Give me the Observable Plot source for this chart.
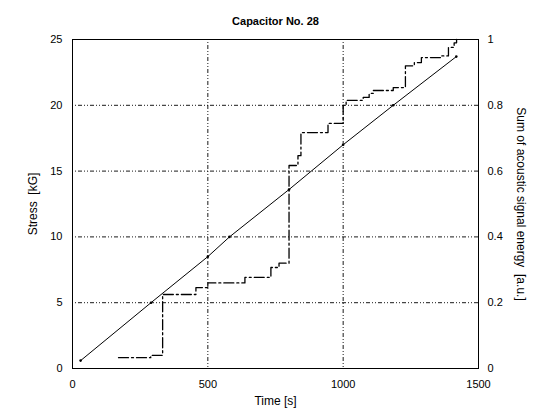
<!DOCTYPE html>
<html>
<head>
<meta charset="utf-8">
<script src="https://cdn.jsdelivr.net/npm/d3@7"></script>
<script src="https://cdn.jsdelivr.net/npm/@observablehq/plot@0.6"></script>
<style>
  body { margin: 0; background: #fff; }
  svg { display: block; }
</style>
</head>
<body>
<div id="chart"></div>
<script>
const title = "Capacitor No. 28";
const xLabel = "Time [s]";
const yLabel = "Stress  [kG]";
const y2Label = "Sum of acoustic signal energy  [a.u.]";

const xTicks = [0, 500, 1000, 1500];
const yTicks = [0, 5, 10, 15, 20, 25];
const y2TickLabels = ["0", "0.2", "0.4", "0.6", "0.8", "1"];

// Stress line (left axis)
const stressTime  = [30, 290, 500, 580, 800, 1000, 1185, 1418];
const stressValue = [0.6, 5.0, 8.5, 10.0, 13.6, 17.0, 20.0, 23.7];

// Cumulative acoustic energy (right axis, 0..1), step-after
const energyTime  = [170, 289, 333, 333, 430, 456, 500, 637, 637, 733, 763, 800, 800, 833, 844, 919, 944, 1000, 1000, 1011, 1067, 1074, 1096, 1111, 1178, 1185, 1230, 1230, 1263, 1289, 1344, 1363, 1389, 1410, 1419];
const energyValue = [0.033, 0.04, 0.055, 0.225, 0.225, 0.246, 0.26, 0.26, 0.277, 0.307, 0.32, 0.32, 0.617, 0.647, 0.717, 0.717, 0.745, 0.75, 0.80, 0.815, 0.815, 0.824, 0.836, 0.845, 0.845, 0.854, 0.854, 0.92, 0.93, 0.945, 0.945, 0.95, 0.976, 0.99, 1.0];

const stress = stressTime.map((t, i) => ({t, v: stressValue[i]}));
const energy = energyTime.map((t, i) => ({t, v: energyValue[i]}));
const Y2MAX = 25; // right axis 1.0 maps to left 25

const font = "Liberation Sans, Arial, sans-serif";
const gridDash = "1,2,1,2,4,2";

const chart = Plot.plot({
  width: 538,
  height: 418,
  marginLeft: 72,
  marginRight: 60,
  marginTop: 39,
  marginBottom: 50,
  style: {fontFamily: font, fontSize: "11px", color: "#000", background: "#fff"},
  x: {domain: [0, 1500]},
  y: {domain: [0, 25]},
  marks: [
    Plot.gridX([500, 1000], {stroke: "#000", strokeOpacity: 0.9, strokeWidth: 1, strokeDasharray: gridDash}),
    Plot.gridY([5, 10, 15, 20], {stroke: "#000", strokeOpacity: 0.9, strokeWidth: 1, strokeDasharray: gridDash}),
    Plot.axisX(xTicks, {tickSize: 0, tickPadding: 12, label: null, fontSize: 11, tickFormat: d => String(d)}),
    Plot.axisY(yTicks, {anchor: "left", tickSize: 0, tickPadding: 10, label: null, fontSize: 11, tickFormat: d => String(d)}),
    Plot.axisY(yTicks, {anchor: "right", tickSize: 0, tickPadding: 9, label: null, fontSize: 11,
      tickFormat: d => y2TickLabels[yTicks.indexOf(d)]}),
    Plot.frame({stroke: "#000", strokeWidth: 1}),
    Plot.line(stress, {x: "t", y: "v", stroke: "#000", strokeWidth: 1}),
    Plot.dot(stress, {x: "t", y: "v", r: 1.3, fill: "#000", stroke: null}),
    Plot.line(energy, {x: "t", y: d => d.v * Y2MAX, curve: "step-after", stroke: "#000", strokeWidth: 1.3, strokeDasharray: "10,3,2,3"}),
    Plot.text([title], {frameAnchor: "top", dy: -22, fontWeight: "bold", fontSize: 11}),
    Plot.text([xLabel], {frameAnchor: "bottom", dy: 36, fontSize: 12}),
    Plot.text([yLabel], {frameAnchor: "left", dx: -39, rotate: -90, textAnchor: "middle", fontSize: 12}),
    Plot.text([y2Label], {frameAnchor: "right", dx: 42, rotate: 90, textAnchor: "middle", fontSize: 12})
  ]
});
document.getElementById("chart").appendChild(chart);
</script>
</body>
</html>
